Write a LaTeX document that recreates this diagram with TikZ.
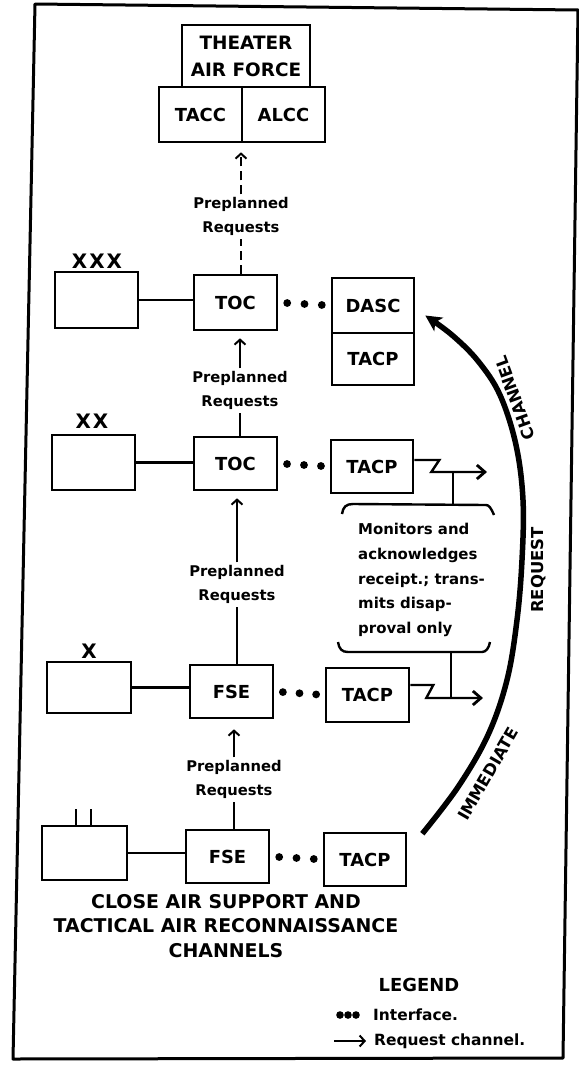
\documentclass[tikz,border=0pt]{standalone}
\usepackage{fontspec}
\setmainfont{DejaVu Sans}
\usetikzlibrary{arrows.meta,calc}
\begin{document}
\begin{tikzpicture}[x=1bp,y=-1bp,
  every node/.style={font=\bfseries},
  box/.style={draw,line width=2.6bp,minimum width=83bp,minimum height=54bp,inner sep=0pt,
              font=\bfseries\fontsize{18}{20}\selectfont},
  link/.style={line width=2.4bp},
  dashline/.style={line width=2.2bp,dash pattern=on 9bp off 5bp},
  req/.style={font=\bfseries\fontsize{14.8}{23.5}\selectfont,align=center,inner sep=3bp},
  barb/.style={-{Straight Barb[length=5bp,width=11bp,line width=2bp]}},
  bigbarb/.style={-{Straight Barb[length=8bp,width=14bp,line width=2.8bp]}},
  corps/.style={font=\bfseries\fontsize{20}{22}\selectfont,inner sep=0pt},
  chan/.style={font=\bfseries\fontsize{16.5}{20}\selectfont,inner sep=0pt},
  bigarr/.style={line width=5.5bp,-{Stealth[length=16bp,width=16bp,inset=4bp]}},
  legtext/.style={font=\bfseries\fontsize{15.5}{18}\selectfont,inner sep=0pt}]

\fill[white] (0,0) rectangle (579,1068);
\useasboundingbox (0,0) rectangle (579,1068);

% frame
\draw[line width=3bp,line join=round] (35,4) -- (578,10) -- (563,1058) -- (13,1059) -- cycle;

% top: theater air force
\node[box,minimum width=128bp,minimum height=62bp,align=center,
      font=\bfseries\fontsize{18.5}{27}\selectfont] (taf) at (246,56) {THEATER\\AIR FORCE};
\node[box,minimum height=55bp] (tacc) at (200.5,114.5) {TACC};
\node[box,minimum height=55bp] (alcc) at (283.5,114.5) {ALCC};

% row XXX
\node[box,minimum height=56bp] (c3) at (96.5,300) {};
\node[corps] (l3) at (97,261) {X\kern2bp X\kern2bp X};
\node[box,minimum height=55bp] (toc1) at (235.5,302.5) {TOC};
\node[box,minimum width=82bp,minimum height=55bp] (dasc) at (373,305.5) {DASC};
\node[box,minimum width=82bp,minimum height=52bp] (tacpA) at (373,359) {TACP};

% row XX
\node[box,minimum height=55bp] (c2) at (93.5,462.5) {};
\node[corps] (l2) at (92,421) {X\kern2bp X};
\node[box,minimum height=53bp] (toc2) at (235.5,463.5) {TOC};
\node[box,minimum width=82bp,minimum height=53bp] (tacpB) at (372,466.5) {TACP};

% row X
\node[box,minimum width=84bp,minimum height=51bp] (c1) at (89,687.5) {};
\node[corps] (l1) at (89,651) {X};
\node[box,minimum height=53bp] (fse1) at (231.5,691.5) {FSE};
\node[box,minimum height=54bp] (tacpC) at (367.5,695) {TACP};

% bottom row
\node[box,minimum width=85bp,minimum height=54bp] (c0) at (84.5,853) {};
\node[box,minimum height=53bp] (fse2) at (227.5,856.5) {FSE};
\node[box,minimum width=82bp,minimum height=53bp] (tacpD) at (365,859.5) {TACP};
\draw[link] ($(c0.north west)+(35,0)$) -- ++(0,-16);
\draw[link] ($(c0.north west)+(50,0)$) -- ++(0,-16);

% horizontal links
\draw[link] (c3.east) -- (c3.east -| toc1.west);
\draw[link] (c2.east) -- (c2.east -| toc2.west);
\draw[link] (c1.east) -- (c1.east -| fse1.west);
\draw[link] (c0.east) -- (c0.east -| fse2.west);

% interface dots
\foreach \a/\b in {toc1/dasc,toc2/tacpB,fse1/tacpC,fse2/tacpD}
  \foreach \t in {0.17,0.5,0.83}
    \fill ($(\a.east)!\t!(\b.west)$) circle (3.9bp);

% preplanned requests
\node[req] (p1) at (241,216.5) {Preplanned\\Requests};
\draw[dashline] (toc1.north -| p1) -- (p1.south);
\draw[dashline,barb,shorten >=9bp] (p1.north) -- (p1.north |- tacc.south);

\node[req] (p2) at (240,390.5) {Preplanned\\Requests};
\draw[link] (toc2.north -| p2) -- (p2.south);
\draw[link,barb,shorten >=7bp] (p2.north) -- (p2.north |- toc1.south);

\node[req] (p3) at (237,584.5) {Preplanned\\Requests};
\draw[link] (fse1.north -| p3) -- (p3.south);
\draw[link,barb,shorten >=7bp] (p3.north) -- (p3.north |- toc2.south);

\node[req] (p4) at (234,779.5) {Preplanned\\Requests};
\draw[link] (fse2.north -| p4) -- (p4.south);
\draw[link,barb,shorten >=10bp] (p4.north) -- (p4.north |- fse1.south);

% radio links from TACPs
\coordinate (e2) at (487,472);
\coordinate (e1) at (483,698);
\draw[link,bigbarb,line join=miter] ($(tacpB.east)+(0,-6.5)$) -- ++(25,0) -- ++(-8,12) -- (e2);
\draw[link,bigbarb,line join=miter] ($(tacpC.east)+(0,-10)$) -- ++(23,0) -- ++(-7,13) -- (e1);

% brackets
\draw[link] (342,514) .. controls (343,507) and (346,504) .. (353,504) -- (486,505)
  .. controls (489,505) and (491,508) .. (494,515);
\draw[link] (338,642) .. controls (339,649) and (342,652) .. (348,652) -- (482,652)
  .. controls (486,652) and (489,648) .. (490,642);
\coordinate (b1) at (453,504);
\coordinate (b2) at (451,652);
\draw[link] (b1) -- (b1 |- e2);
\draw[link] (b2) -- (b2 |- e1);

\node[anchor=west,align=left,inner sep=0pt,font=\bfseries\fontsize{15}{25}\selectfont] (mon) at (358,580)
  {Monitors and\\acknowledges\\receipt.; trans-\\mits disap-\\proval only};

% immediate request channel
\coordinate (cs) at ($(tacpD.north east)+(15,2)$);
\coordinate (ce) at ($(dasc.east)+(10,10)$);
\draw[bigarr] plot[smooth,tension=0.6] coordinates {(cs) (458,787) (488,735) (507,680) (517,620)
  (522,560) (523,500) (516,445) (500,395) (478,361) (452,335) (ce)};
\node[chan,rotate=60] (im) at (488,774) {IMMEDIATE};
\node[chan,rotate=90] (rq) at (539,570) {REQUEST};
\node[chan,rotate=110] (ch) at (515,398) {CHANNEL};

% title
\node[align=center,font=\bfseries\fontsize{19}{24.5}\selectfont] (title) at (226,926)
  {CLOSE AIR SUPPORT AND\\TACTICAL AIR RECONNAISSANCE\\CHANNELS};

% legend
\node[font=\bfseries\fontsize{18}{20}\selectfont] (leg) at (419,985) {LEGEND};
\node[legtext,anchor=west] (li) at (373,1015) {Interface.};
\foreach \d in {-33,-25,-17} \fill ($(li.west)+(\d,0)$) circle (3.8bp);
\node[legtext,anchor=west] (lr) at (374,1041) {Request channel.};
\draw[link,barb] ($(lr.west)+(-40,0)$) -- ($(lr.west)+(-8,0)$);
\end{tikzpicture}
\end{document}
